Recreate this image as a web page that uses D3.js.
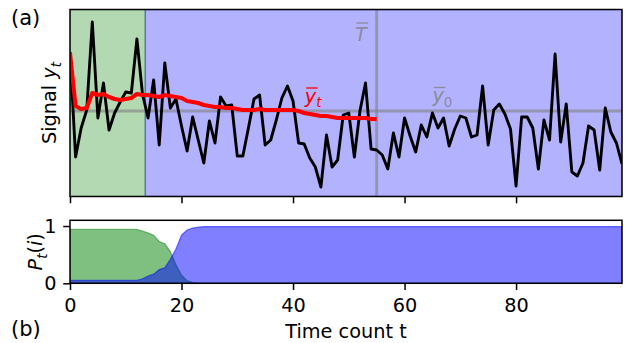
<!DOCTYPE html>
<html><head><meta charset="utf-8">
<script src="https://cdn.jsdelivr.net/npm/d3@7"></script>
<style>body{margin:0;background:#fff} svg{display:block} text{font-family:"DejaVu Sans",sans-serif}</style>
</head><body><svg id="c" width="625" height="343"></svg>
<script>
// ---- data ----
const signal = [2.36,-1.84,-0.68,0.04,3.56,-0.28,1.12,-0.76,-0.08,0.36,
 0.76,0.72,2.88,0.68,-0.28,1.24,-1.36,1.92,0.12,0.48,
 -0.60,-1.60,-0.24,-1.16,-2.08,-0.40,-1.28,0.56,0.20,0.24,
 -1.80,-1.80,-0.68,0.48,0.64,-1.36,-1.16,-0.36,0.52,1.00,
 0.40,-1.28,-1.32,-1.88,-2.24,-3.04,-0.96,-2.24,-1.96,-0.16,
 -0.08,-1.84,0.00,1.12,-1.52,-1.56,-1.76,-2.32,-0.88,-1.84,
 -0.28,-1.00,-1.64,-0.56,-1.04,-0.08,-0.68,-0.28,-1.40,-0.72,
 -0.20,-0.28,-1.04,-0.96,1.00,-1.36,0.04,0.28,-0.12,-0.72,
 -3.00,-0.24,-0.24,-0.68,-2.32,-0.36,-1.16,2.28,-1.24,0.28,
 -2.44,-2.60,-2.08,-0.60,-0.76,-2.36,0.12,-0.84,-1.28,-2.12];
const runningMean = [2.33,0.20,0.08,0.12,0.72,0.64,0.68,0.56,0.48,0.44,
 0.48,0.52,0.68,0.64,0.64,0.60,0.56,0.64,0.60,0.56,
 0.52,0.40,0.36,0.32,0.24,0.20,0.16,0.16,0.12,0.12,
 0.08,0.04,0.04,0.04,0.08,0.04,0.04,0.04,0.04,0.04,
 0.04,0.00,-0.08,-0.12,-0.16,-0.20,-0.20,-0.24,-0.28,-0.28,
 -0.28,-0.28,-0.28,-0.28,-0.32,-0.32];
const probGreen = [0.94,0.94,0.94,0.94,0.94,0.94,0.94,0.94,0.94,0.94,
 0.94,0.94,0.94,0.91,0.88,0.84,0.73,0.69,0.55,0.33,
 0.14,0.045,0.015,0.005,0,0,0,0,0,0,
 0,0,0,0,0,0,0,0,0,0, 0,0,0,0,0,0,0,0,0,0,
 0,0,0,0,0,0,0,0,0,0, 0,0,0,0,0,0,0,0,0,0,
 0,0,0,0,0,0,0,0,0,0, 0,0,0,0,0,0,0,0,0,0,
 0,0,0,0,0,0,0,0,0,0];
const probBlue = [0.05,0.05,0.05,0.05,0.05,0.05,0.05,0.05,0.05,0.05,
 0.05,0.05,0.05,0.08,0.125,0.16,0.24,0.27,0.42,0.6,
 0.84,0.93,0.965,0.98,0.99,0.99,0.99,0.99,0.99,0.99,
 0.99,0.99,0.99,0.99,0.99,0.99,0.99,0.99,0.99,0.99, 0.99,0.99,0.99,0.99,0.99,0.99,0.99,0.99,0.99,0.99,
 0.99,0.99,0.99,0.99,0.99,0.99,0.99,0.99,0.99,0.99, 0.99,0.99,0.99,0.99,0.99,0.99,0.99,0.99,0.99,0.99,
 0.99,0.99,0.99,0.99,0.99,0.99,0.99,0.99,0.99,0.99, 0.99,0.99,0.99,0.99,0.99,0.99,0.99,0.99,0.99,0.99,
 0.99,0.99,0.99,0.99,0.99,0.99,0.99,0.99,0.99,0.99];
const xTicks = [0, 20, 40, 60, 80];
const xTickLabels = ["0", "20", "40", "60", "80"];
const pTicks = [0, 1];
const pTickLabels = ["0", "1"];
const changePoint = 13.5;
const meanTime = 55;
const baseLevel = 0;

// ---- layout ----
const FS = 19.3;
const svg = d3.select("#c");
const x = d3.scaleLinear().domain([0, signal.length - 1]).range([70, 622]);
const yTop = d3.scaleLinear().domain([-3.42, 4.06]).range([196.5, 9.5]);
const yBot = d3.scaleLinear().domain([0, 1.1]).range([283.3, 220.3]);
const defs = svg.append("defs");
defs.append("clipPath").attr("id","clipTop").append("rect")
  .attr("x", x.range()[0]).attr("y", yTop.range()[1])
  .attr("width", x.range()[1]-x.range()[0]).attr("height", yTop.range()[0]-yTop.range()[1]);
defs.append("clipPath").attr("id","clipBot").append("rect")
  .attr("x", x.range()[0]).attr("y", yBot.range()[1])
  .attr("width", x.range()[1]-x.range()[0]).attr("height", yBot.range()[0]-yBot.range()[1]);

// ---- top panel ----
const tp = svg.append("g").attr("clip-path","url(#clipTop)");
const [tb, tt] = yTop.range();
tp.append("rect").attr("x", x(0)).attr("y", tt).attr("width", x(changePoint)-x(0)).attr("height", tb-tt)
  .attr("fill","green").attr("fill-opacity",0.3).attr("stroke","green").attr("stroke-opacity",0.3).attr("stroke-width",1.5);
tp.append("rect").attr("x", x(changePoint)).attr("y", tt).attr("width", x(signal.length-1)-x(changePoint)).attr("height", tb-tt)
  .attr("fill","blue").attr("fill-opacity",0.3).attr("stroke","blue").attr("stroke-opacity",0.3).attr("stroke-width",1.5);
tp.append("line").attr("x1", x(0)).attr("x2", x(signal.length-1)).attr("y1", yTop(baseLevel)).attr("y2", yTop(baseLevel))
  .attr("stroke","gray").attr("stroke-opacity",0.6).attr("stroke-width",2.9);
tp.append("line").attr("x1", x(meanTime)).attr("x2", x(meanTime)).attr("y1", tt).attr("y2", tb)
  .attr("stroke","gray").attr("stroke-opacity",0.6).attr("stroke-width",2.9);
const line = d3.line().x((d,i)=>x(i)).y(d=>yTop(d));
tp.append("path").attr("d", line(signal)).attr("fill","none").attr("stroke","black").attr("stroke-width",2.9).attr("stroke-linejoin","round");
tp.append("path").attr("d", line(runningMean)).attr("fill","none").attr("stroke","red").attr("stroke-width",4).attr("stroke-linejoin","round");

svg.append("rect").attr("x", x.range()[0]).attr("y", tt).attr("width", x.range()[1]-x.range()[0]).attr("height", tb-tt)
  .attr("fill","none").attr("stroke","black").attr("stroke-width",1.5);
const axT = svg.append("g").attr("transform",`translate(0,${tb})`)
  .call(d3.axisBottom(x).tickValues(xTicks).tickSize(6.75).tickFormat(""));
axT.select(".domain").remove();
axT.selectAll("line").attr("stroke-width",1.5);

// ---- math label helper ----
function mathText(parent, px, py, parts, color, opacity){
  const t = parent.append("text").attr("x", px).attr("y", py).attr("fill", color).attr("fill-opacity", opacity||1)
    .style("font-size", FS+"px");
  let idx = 0; const overs = [];
  parts.forEach((p,k)=>{
    const ts = t.append("tspan").text(p.t);
    if (p.it) ts.style("font-style","italic");
    if (p.sub) { ts.style("font-size",(FS*0.7)+"px").attr("dy", 4.5); }
    else if (k>0 && parts[k-1].sub) ts.attr("dy", -4.5);
    if (p.over) overs.push({i: idx, n: p.t.length, h: p.over});
    idx += p.t.length;
  });
  overs.forEach(o=>{
    const node = t.node();
    const s = node.getStartPositionOfChar(o.i);
    const e = node.getEndPositionOfChar(o.i+o.n-1);
    parent.append("line").attr("x1", s.x+1.5).attr("x2", e.x+1.5).attr("y1", py - o.h).attr("y2", py - o.h)
      .attr("stroke", color).attr("stroke-opacity", opacity||1).attr("stroke-width", 1.3);
  });
  return t;
}
mathText(svg, x(51.1), yTop(2.8), [{t:"T", it:true, over:18}], "gray", 0.8);
mathText(svg, x(42.1), yTop(0.34), [{t:"y", it:true, over:14.5},{t:"t", it:true, sub:true}], "red", 1);
mathText(svg, x(65.0), yTop(0.36), [{t:"y", it:true, over:14.5},{t:"0", sub:true}], "gray", 0.8);

// ---- bottom panel ----
const bp = svg.append("g").attr("clip-path","url(#clipBot)");
const area = d3.area().x((d,i)=>x(i)).y0(yBot(0)).y1(d=>yBot(d));
bp.append("path").attr("d", area(probGreen)).attr("fill","green").attr("fill-opacity",0.5)
  .attr("stroke","green").attr("stroke-opacity",0.5).attr("stroke-width",1.2);
bp.append("path").attr("d", area(probBlue)).attr("fill","blue").attr("fill-opacity",0.5)
  .attr("stroke","blue").attr("stroke-opacity",0.5).attr("stroke-width",1.2);
const [bb, bt] = yBot.range();
svg.append("rect").attr("x", x.range()[0]).attr("y", bt).attr("width", x.range()[1]-x.range()[0]).attr("height", bb-bt)
  .attr("fill","none").attr("stroke","black").attr("stroke-width",1.5);
const axB = svg.append("g").attr("transform",`translate(0,${bb})`)
  .call(d3.axisBottom(x).tickValues(xTicks).tickSize(6.75).tickPadding(8).tickFormat((d,i)=>xTickLabels[i]));
axB.select(".domain").remove();
axB.selectAll("line").attr("stroke-width",1.5);
axB.selectAll("text").style("font-size",FS+"px").style("font-family","DejaVu Sans").attr("fill","black");
const axL = svg.append("g").attr("transform",`translate(${x.range()[0]},0)`)
  .call(d3.axisLeft(yBot).tickValues(pTicks).tickSize(6.75).tickPadding(6.75).tickFormat((d,i)=>pTickLabels[i]));
axL.select(".domain").remove();
axL.selectAll("line").attr("stroke-width",1.5);
axL.selectAll("text").style("font-size",FS+"px").style("font-family","DejaVu Sans").attr("fill","black");

// ---- axis labels ----
const yl1 = svg.append("g").attr("transform",`translate(56,${(tt+tb)/2}) rotate(-90)`);
const s1 = mathText(yl1, 0, 0, [{t:"Signal "},{t:"y", it:true},{t:"t", it:true, sub:true}], "black", 1);
s1.attr("text-anchor","middle");
const yl2 = svg.append("g").attr("transform",`translate(42,${(bt+bb)/2}) rotate(-90)`);
const s2 = mathText(yl2, 0, 0, [{t:"P", it:true},{t:"t", it:true, sub:true},{t:"("},{t:"i", it:true},{t:")"}], "black", 1);
s2.attr("text-anchor","middle");
svg.append("text").attr("x", (x.range()[0]+x.range()[1])/2).attr("y", 338).attr("text-anchor","middle")
  .style("font-size",FS+"px").text("Time count t");
svg.append("text").attr("x", 11).attr("y", 24.5).style("font-size","21px").text("(a)");
svg.append("text").attr("x", 11).attr("y", 335.6).style("font-size","21px").text("(b)");
</script></body></html>
